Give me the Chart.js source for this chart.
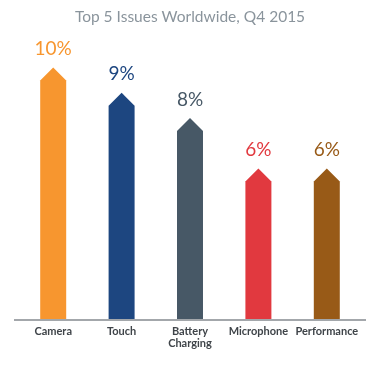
<!DOCTYPE html>
<html>
<head>
<meta charset="utf-8">
<script src="https://cdn.jsdelivr.net/npm/chart.js@4"></script>
<style>
  html, body { margin: 0; padding: 0; background: #fff; }
  #wrap { width: 391px; height: 376px; }
</style>
</head>
<body>
<div id="wrap"><canvas id="issuesChart"></canvas></div>
<script>
const categories = ["Camera", "Touch", ["Battery", "Charging"], "Microphone", "Performance"];
const issueShare = [10, 9, 8, 6, 6];
const barColors = ["#f7962f", "#1d4680", "#475866", "#e1393f", "#985a17"];

// arrow shaped bars + value labels
const arrowBars = {
  id: "arrowBars",
  afterDatasetsDraw(chart) {
    const ctx = chart.ctx;
    const meta = chart.getDatasetMeta(0);
    const cap = 13;
    meta.data.forEach((bar, i) => {
      const half = bar.width / 2;
      ctx.save();
      ctx.fillStyle = barColors[i];
      ctx.beginPath();
      ctx.moveTo(bar.x - half, bar.base);
      ctx.lineTo(bar.x - half, bar.y + cap);
      ctx.lineTo(bar.x, bar.y);
      ctx.lineTo(bar.x + half, bar.y + cap);
      ctx.lineTo(bar.x + half, bar.base);
      ctx.closePath();
      ctx.fill();

      ctx.font = "19px Lato";
      ctx.textAlign = "center";
      ctx.textBaseline = "bottom";
      ctx.fillText(issueShare[i] + "%", bar.x, bar.y - 9);
      ctx.restore();
    });
    // baseline
    const area = chart.chartArea;
    ctx.save();
    ctx.strokeStyle = "#a3a7ab";
    ctx.lineWidth = 2;
    ctx.beginPath();
    ctx.moveTo(area.left - 5, area.bottom);
    ctx.lineTo(area.right + 5, area.bottom);
    ctx.stroke();
    ctx.restore();
  }
};

new Chart(document.getElementById("issuesChart"), {
  type: "bar",
  data: {
    labels: categories,
    datasets: [{
      data: issueShare,
      backgroundColor: "rgba(0,0,0,0)",
      barPercentage: 0.38,
      categoryPercentage: 1.0,
    }],
  },
  options: {
    responsive: true,
    maintainAspectRatio: false,
    animation: false,
    layout: { padding: { left: 19, right: 30, top: 0, bottom: 21 } },
    plugins: {
      legend: { display: false },
      tooltip: { enabled: false },
      title: {
        display: true,
        text: "Top 5 Issues Worldwide, Q4 2015",
        color: "#8a949c",
        font: { family: "Lato", size: 15.5, weight: "normal" },
        padding: { top: 8, bottom: 41 },
      },
    },
    scales: {
      x: {
        grid: { display: false, drawTicks: false },
        border: { display: false },
        ticks: {
          color: "#3f4449",
          padding: 6,
          maxRotation: 0,
          autoSkip: false,
          font: { family: "Lato", size: 11, weight: "bold", lineHeight: 1.05 },
        },
      },
      y: {
        display: false,
        min: 0,
        max: 10,
      },
    },
  },
  plugins: [arrowBars],
});
</script>
</body>
</html>
